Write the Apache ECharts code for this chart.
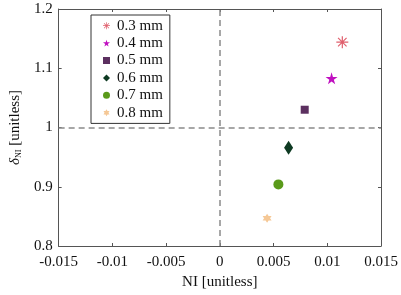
<!DOCTYPE html>
<html>
<head>
<meta charset="utf-8">
<script src="https://cdn.jsdelivr.net/npm/echarts@6/dist/echarts.min.js"></script>
<style>
  html, body { margin: 0; padding: 0; background: #fff; }
  #chart { width: 401px; height: 295px; }
</style>
</head>
<body>
<div id="chart"></div>
<script>
// data
const sizes = ['0.3 mm', '0.4 mm', '0.5 mm', '0.6 mm', '0.7 mm', '0.8 mm']
const niValues = [0.0114, 0.0104, 0.0079, 0.0064, 0.00545, 0.0044]
const deltaValues = [1.144, 1.083, 1.030, 0.966, 0.904, 0.847]
const colors = ['#e0606e', '#c010c0', '#5c3060', '#0e3a22', '#5a9a1a', '#f5c896']

const asterisk = 'path://M45,0 L55,0 L55,100 L45,100 Z M0,45 L100,45 L100,55 L0,55 Z M11,18 L18,11 L89,82 L82,89 Z M82,11 L89,18 L18,89 L11,82 Z'
const star5 = 'path://M50,0 L61,35 L98,35 L68,57 L79,91 L50,70 L21,91 L32,57 L2,35 L39,35 Z'
const star6 = 'path://M50,0 L93,75 L7,75 Z M50,100 L7,25 L93,25 Z'
const symbols = [asterisk, star5, 'rect', 'diamond', 'circle', star6]
const symbolSizes = [12, 12, 8, [9, 14], 10, 9]

const fontFamily = '"Liberation Serif", "DejaVu Serif", serif'
const axisColor = '#555'

const chart = echarts.init(document.getElementById('chart'))

const series = sizes.map((name, i) => ({
  name: name,
  type: 'scatter',
  symbol: symbols[i],
  symbolSize: symbolSizes[i],
  itemStyle: { color: colors[i], opacity: 1 },
  data: [[niValues[i], deltaValues[i]]],
  z: 5
}))

// dashed reference lines at x = 0 and y = 1
series.push({
  type: 'scatter',
  data: [],
  silent: true,
  markLine: {
    symbol: 'none',
    silent: true,
    label: { show: false },
    lineStyle: { color: '#8a8a8a', type: [6, 4], width: 1.5 },
    data: [{ xAxis: 0 }, { yAxis: 1 }]
  }
})

const xBase = {
  type: 'value',
  min: -0.015,
  max: 0.015,
  interval: 0.005,
  splitLine: { show: false },
  axisLine: { show: true, onZero: false, lineStyle: { color: axisColor, width: 1 } },
  axisTick: { show: true, inside: true, length: 3, lineStyle: { color: axisColor } }
}
const yBase = {
  type: 'value',
  min: 0.8,
  max: 1.2,
  interval: 0.1,
  splitLine: { show: false },
  axisLine: { show: true, onZero: false, lineStyle: { color: axisColor, width: 1 } },
  axisTick: { show: true, inside: true, length: 3, lineStyle: { color: axisColor } }
}

const option = {
  animation: false,
  backgroundColor: '#fff',
  textStyle: { fontFamily: fontFamily },
  grid: { left: 51, right: 20, top: 9, bottom: 49 },
  legend: {
    orient: 'vertical',
    left: 91,
    top: 15,
    data: sizes,
    itemWidth: 7,
    itemHeight: 7,
    itemGap: 0,
    padding: [2, 7, 2, 12],
    borderColor: '#333',
    borderWidth: 1,
    backgroundColor: '#fff',
    textStyle: { fontFamily: fontFamily, fontSize: 15, color: '#111', lineHeight: 17.4, padding: [0, 0, 0, 2] }
  },
  xAxis: [
    Object.assign({}, xBase, {
      position: 'bottom',
      name: 'NI [unitless]',
      nameLocation: 'middle',
      nameGap: 29,
      nameTextStyle: { fontFamily: fontFamily, fontSize: 15, color: '#111' },
      axisLabel: {
        margin: 9,
        fontFamily: fontFamily,
        fontSize: 15,
        color: '#111',
        formatter: v => String(parseFloat(v.toFixed(3)))
      }
    }),
    Object.assign({}, xBase, { position: 'top', axisLabel: { show: false } })
  ],
  yAxis: [
    Object.assign({}, yBase, {
      position: 'left',
      name: '{d|δ}{s|NI} [unitless]',
      nameLocation: 'middle',
      nameRotate: 90,
      nameGap: 31,
      nameTextStyle: {
        fontFamily: fontFamily,
        fontSize: 15,
        color: '#111',
        rich: {
          d: { fontFamily: fontFamily, fontSize: 15, fontStyle: 'italic', color: '#111' },
          s: { fontFamily: fontFamily, fontSize: 8, color: '#111', padding: [6, 0, 0, 0] }
        }
      },
      axisLabel: {
        margin: 6,
        fontFamily: fontFamily,
        fontSize: 15,
        color: '#111',
        formatter: v => String(parseFloat(v.toFixed(1)))
      }
    }),
    Object.assign({}, yBase, { position: 'right', axisLabel: { show: false } })
  ],
  series: series
}

chart.setOption(option)
</script>
</body>
</html>
